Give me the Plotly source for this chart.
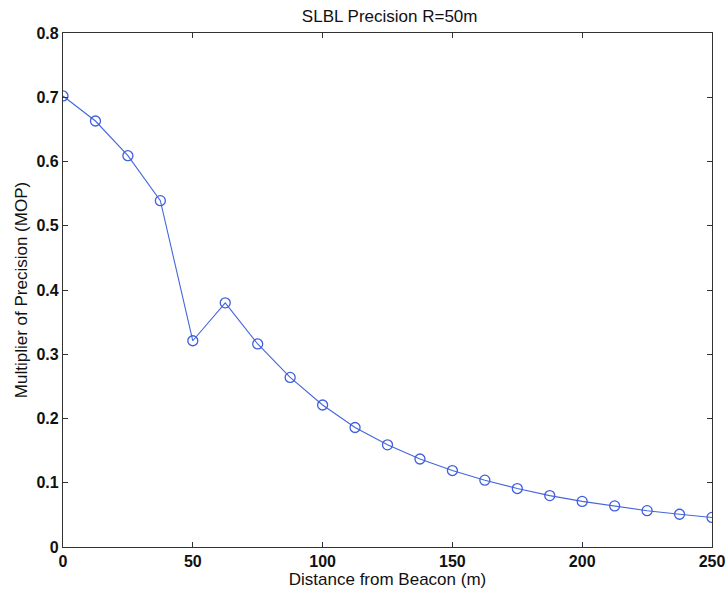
import plotly.graph_objects as go

distance = [0, 12.5, 25, 37.5, 50, 62.5, 75, 87.5, 100, 112.5, 125, 137.5,
            150, 162.5, 175, 187.5, 200, 212.5, 225, 237.5, 250]
mop = [0.702, 0.663, 0.609, 0.539, 0.321, 0.380, 0.316, 0.264, 0.221, 0.186,
       0.159, 0.137, 0.119, 0.104, 0.091, 0.080, 0.071, 0.064, 0.0565, 0.051, 0.046]

title_text = "SLBL Precision R=50m"
x_title = "Distance from Beacon (m)"
y_title = "Multiplier of Precision (MOP)"

fig = go.Figure()
fig.add_trace(go.Scatter(
    x=distance, y=mop, mode="lines+markers",
    line=dict(color="#4466dd", width=1.1),
    marker=dict(symbol="circle-open", size=10, color="#3f5fdc", line=dict(width=1.3)),
    showlegend=False,
))

font = "Liberation Sans, Arial, sans-serif"
axis_common = dict(
    showline=True, linecolor="#333333", linewidth=1.2, mirror="ticks",
    ticks="inside", ticklen=5, tickcolor="#333333", showgrid=False, zeroline=False,
    automargin=False,
    tickfont=dict(family=font, size=16, color="#111111", weight="bold"),
)
fig.update_layout(
    width=727, height=594,
    margin=dict(l=63, r=15, t=33, b=47),
    paper_bgcolor="white", plot_bgcolor="white",
    title=dict(text=title_text, x=0.536, xanchor="center", y=0.973, yanchor="middle",
               font=dict(family=font, size=17, color="#111111")),
    xaxis=dict(range=[0, 250], dtick=50, tick0=0,
               title=dict(text=x_title, standoff=1, font=dict(family=font, size=17, color="#111111")),
               **axis_common),
    yaxis=dict(range=[0, 0.8], dtick=0.1, tick0=0, tickformat="~g",
               title=dict(text=y_title, standoff=4, font=dict(family=font, size=17, color="#111111")),
               **axis_common),
)
fig.write_html("out.html")
